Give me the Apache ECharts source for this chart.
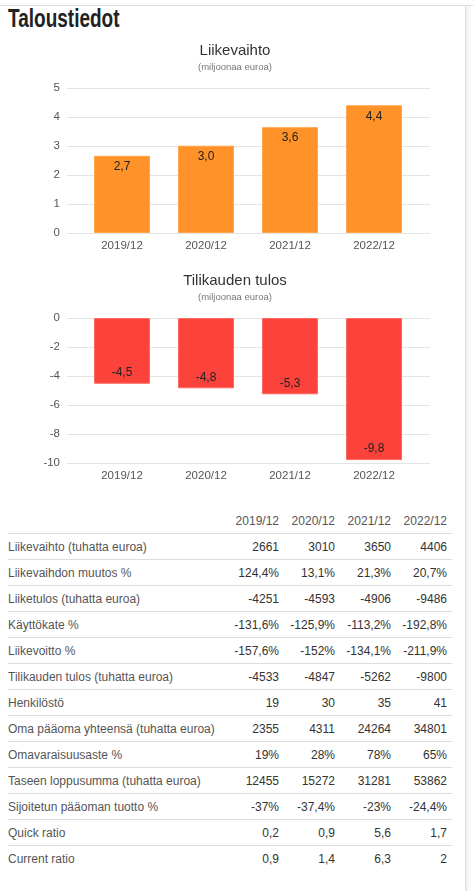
<!DOCTYPE html>
<html>
	<head>
		<meta charset="utf-8">
		<title>Taloustiedot</title>
		<script src="https://cdn.jsdelivr.net/npm/echarts@6/dist/echarts.min.js"></script>
		<style>
			body { margin: 0; background: #fff; font-family: "Liberation Sans", Arial, sans-serif; }
			#page { position: relative; width: 473px; height: 891px; overflow: hidden; }
			/* ylä- ja oikea reuna */
			#topline { position: absolute; left: 0; top: 5px; width: 473px; height: 1px; background: #dcdcdc; }
			#rightline { position: absolute; left: 465px; top: 6px; width: 6px; height: 885px;
				border-left: 1px solid #dedede; background: linear-gradient(to right, #efefef, #fff); }
			h1 { position: absolute; left: 8px; top: 4px; margin: 0; font-size: 25px; font-weight: bold;
				font-family: "Liberation Sans", sans-serif; color: #222; white-space: nowrap;
				transform: scaleX(0.76); transform-origin: left top; }
			#charts { position: absolute; left: 0; top: 0; width: 465px; height: 495px; }
			table { position: absolute; left: 8px; top: 508px; width: 444px; border-collapse: collapse; font-size: 12px; }
			td, th { padding: 0; height: 25px; font-weight: normal; }
			th { color: #555; text-align: right; padding-right: 5px; }
			tbody td { border-top: 1px solid #dddddd; color: #333; text-align: right; padding-right: 5px; }
			tbody td.lbl { color: #555; text-align: left; padding-right: 0; }
			col.v { width: 56px; }
		</style>
	</head>
	<body>
		<div id="page">
			<div id="topline"></div>
			<div id="rightline"></div>
			<h1>Taloustiedot</h1>
			<div id="charts"></div>
			<table id="tbl">
				<colgroup><col><col class="v"><col class="v"><col class="v"><col class="v"></colgroup>
				<thead></thead>
				<tbody></tbody>
			</table>
		</div>
		<script type="text/javascript">
			// kaudet
			var periods = ['2019/12', '2020/12', '2021/12', '2022/12'];
			// tuhatta euroa
			var liikevaihto = [2661, 3010, 3650, 4406];
			var tilikaudenTulos = [-4533, -4847, -5262, -9800];
			// y-akselit
			var lvTicks = { min: 0, max: 5, interval: 1 };
			var tulosTicks = { min: -10, max: 0, interval: 2 };

			// taulukon rivit
			var rowLabels = [
				'Liikevaihto (tuhatta euroa)',
				'Liikevaihdon muutos %',
				'Liiketulos (tuhatta euroa)',
				'Käyttökate %',
				'Liikevoitto %',
				'Tilikauden tulos (tuhatta euroa)',
				'Henkilöstö',
				'Oma pääoma yhteensä (tuhatta euroa)',
				'Omavaraisuusaste %',
				'Taseen loppusumma (tuhatta euroa)',
				'Sijoitetun pääoman tuotto %',
				'Quick ratio',
				'Current ratio'
			];
			var liikevaihdonMuutos = ['124,4%', '13,1%', '21,3%', '20,7%'];
			var liiketulos = [-4251, -4593, -4906, -9486];
			var kayttokate = ['-131,6%', '-125,9%', '-113,2%', '-192,8%'];
			var liikevoitto = ['-157,6%', '-152%', '-134,1%', '-211,9%'];
			var henkilosto = [19, 30, 35, 41];
			var omaPaaoma = [2355, 4311, 24264, 34801];
			var omavaraisuusaste = ['19%', '28%', '78%', '65%'];
			var taseenLoppusumma = [12455, 15272, 31281, 53862];
			var sijoitetunTuotto = ['-37%', '-37,4%', '-23%', '-24,4%'];
			var quickRatio = ['0,2', '0,9', '5,6', '1,7'];
			var currentRatio = ['0,9', '1,4', '6,3', '2'];

			var rowValues = [liikevaihto, liikevaihdonMuutos, liiketulos, kayttokate, liikevoitto,
				tilikaudenTulos, henkilosto, omaPaaoma, omavaraisuusaste, taseenLoppusumma,
				sijoitetunTuotto, quickRatio, currentRatio];

			// taulukko
			var thead = document.querySelector('#tbl thead');
			var html = '<tr><th></th>';
			periods.forEach(function (p) { html += '<th>' + p + '</th>'; });
			thead.innerHTML = html + '</tr>';
			var tbody = document.querySelector('#tbl tbody');
			html = '';
			rowLabels.forEach(function (lbl, i) {
				html += '<tr><td class="lbl">' + lbl + '</td>';
				rowValues[i].forEach(function (v) { html += '<td>' + v + '</td>'; });
				html += '</tr>';
			});
			tbody.innerHTML = html;

			function toMillions(arr) {
				return arr.map(function (v) { return v / 1000; });
			}
			function fiNumber(v) {
				return v.toFixed(1).replace('.', ',');
			}

			var myChart = echarts.init(document.getElementById('charts'));
			var axisLabel = { color: '#555', fontSize: 11.5, fontFamily: 'Liberation Sans' };
			var titleStyle = { color: '#333', fontSize: 15, fontWeight: 'normal', fontFamily: 'Liberation Sans' };
			var subStyle = { color: '#777', fontSize: 9.5, fontFamily: 'Liberation Sans' };

			var option = {
				animation: false,
				title: [
					{ text: 'Liikevaihto', subtext: '(miljoonaa euroa)', left: 230, top: 38, textAlign: 'center',
					  itemGap: 4, textStyle: titleStyle, subtextStyle: subStyle },
					{ text: 'Tilikauden tulos', subtext: '(miljoonaa euroa)', left: 230, top: 268, textAlign: 'center',
					  itemGap: 4, textStyle: titleStyle, subtextStyle: subStyle }
				],
				// 0,2 = taustaruudukko, 1,3 = pylväät
				grid: [
					{ left: 67, width: 363, top: 88, height: 145 },
					{ left: 80, width: 336, top: 88, height: 145 },
					{ left: 67, width: 363, top: 318, height: 145 },
					{ left: 80, width: 336, top: 318, height: 145 }
				],
				xAxis: [
					{ gridIndex: 0, type: 'value', show: false, min: 0, max: 1 },
					{ gridIndex: 1, type: 'category', data: periods,
					  axisLine: { show: false }, axisTick: { show: false },
					  axisLabel: Object.assign({ margin: 7 }, axisLabel) },
					{ gridIndex: 2, type: 'value', show: false, min: 0, max: 1 },
					{ gridIndex: 3, type: 'category', data: periods, position: 'bottom',
					  axisLine: { show: false }, axisTick: { show: false },
					  axisLabel: Object.assign({ margin: 7 }, axisLabel) }
				],
				yAxis: [
					{ gridIndex: 0, type: 'value', min: lvTicks.min, max: lvTicks.max, interval: lvTicks.interval,
					  axisLine: { show: false }, axisTick: { show: false },
					  axisLabel: Object.assign({ margin: 7 }, axisLabel),
					  splitLine: { lineStyle: { color: '#e4e4e4' } } },
					{ gridIndex: 1, type: 'value', show: false, min: lvTicks.min, max: lvTicks.max,
					  splitLine: { show: false } },
					{ gridIndex: 2, type: 'value', min: tulosTicks.min, max: tulosTicks.max, interval: tulosTicks.interval,
					  axisLine: { show: false }, axisTick: { show: false },
					  axisLabel: Object.assign({ margin: 7 }, axisLabel),
					  splitLine: { lineStyle: { color: '#e4e4e4' } } },
					{ gridIndex: 3, type: 'value', show: false, min: tulosTicks.min, max: tulosTicks.max,
					  splitLine: { show: false } }
				],
				series: [
					{
						type: 'bar', xAxisIndex: 1, yAxisIndex: 1,
						data: toMillions(liikevaihto),
						barWidth: 56,
						itemStyle: { color: '#ff9229', borderColor: '#ffa64d', borderWidth: 1 },
						label: { show: true, position: 'insideTop', color: '#222', fontSize: 12,
							fontFamily: 'Liberation Sans', formatter: function (p) { return fiNumber(p.value); } }
					},
					{
						type: 'bar', xAxisIndex: 3, yAxisIndex: 3,
						data: toMillions(tilikaudenTulos),
						barWidth: 56,
						itemStyle: { color: '#fc433b', borderColor: '#fd6a63', borderWidth: 1 },
						label: { show: true, position: 'insideBottom', color: '#222', fontSize: 12,
							fontFamily: 'Liberation Sans', formatter: function (p) { return fiNumber(p.value); } }
					}
				]
			};
			option && myChart.setOption(option);
		</script>
	</body>
</html>
